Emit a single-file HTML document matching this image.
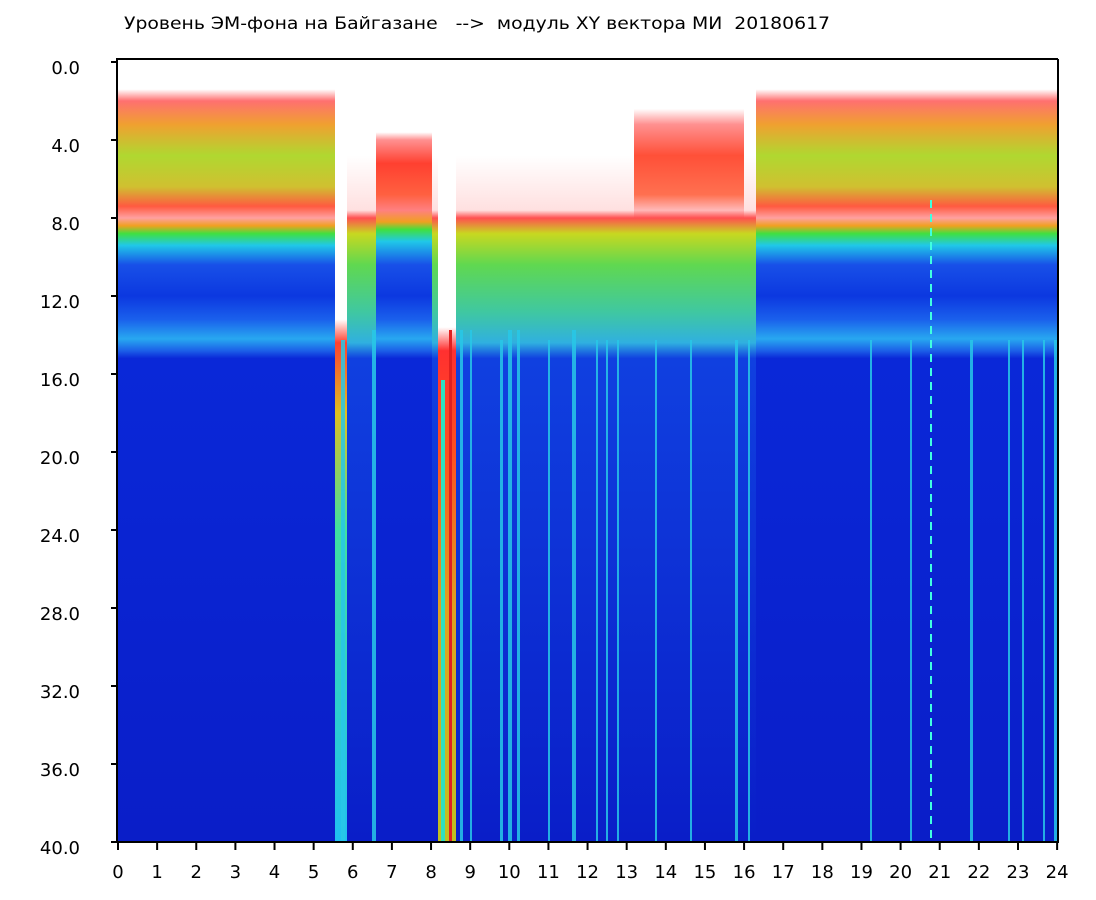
<!DOCTYPE html>
<html><head><meta charset="utf-8"><style>
html,body{margin:0;padding:0;background:#fff;width:1096px;height:900px;overflow:hidden}
svg text{font-family:"DejaVu Sans","Liberation Sans",sans-serif}
</style></head><body>
<svg width="1096" height="900" xmlns="http://www.w3.org/2000/svg">
<defs>
<linearGradient id="g1" gradientUnits="userSpaceOnUse" x1="0" y1="62" x2="0" y2="842">
<stop offset="0" stop-color="#fff"/>
<stop offset="0.035" stop-color="#fff"/>
<stop offset="0.05" stop-color="#ff7070"/>
<stop offset="0.08" stop-color="#f0a030"/>
<stop offset="0.12" stop-color="#b0d830"/>
<stop offset="0.16" stop-color="#d0c030"/>
<stop offset="0.185" stop-color="#ff5a40"/>
<stop offset="0.2" stop-color="#ffa0a0"/>
<stop offset="0.21" stop-color="#f0a020"/>
<stop offset="0.22" stop-color="#40e040"/>
<stop offset="0.235" stop-color="#20c8e8"/>
<stop offset="0.26" stop-color="#1850e8"/>
<stop offset="0.3" stop-color="#0c38e0"/>
<stop offset="0.33" stop-color="#1a60ec"/>
<stop offset="0.355" stop-color="#28a8f0"/>
<stop offset="0.37" stop-color="#1c60e8"/>
<stop offset="0.38" stop-color="#0a28d8"/>
<stop offset="1" stop-color="#0a1ec8"/>
</linearGradient>
<linearGradient id="g1r" gradientUnits="userSpaceOnUse" x1="0" y1="62" x2="0" y2="842">
<stop offset="0" stop-color="#fff"/>
<stop offset="0.09" stop-color="#fff"/>
<stop offset="0.1" stop-color="#ff9090"/>
<stop offset="0.13" stop-color="#ff4030"/>
<stop offset="0.17" stop-color="#ff6040"/>
<stop offset="0.19" stop-color="#ff8080"/>
<stop offset="0.205" stop-color="#f0a020"/>
<stop offset="0.215" stop-color="#40e040"/>
<stop offset="0.23" stop-color="#20c8e8"/>
<stop offset="0.26" stop-color="#1850e8"/>
<stop offset="0.3" stop-color="#0c38e0"/>
<stop offset="0.33" stop-color="#1a60ec"/>
<stop offset="0.355" stop-color="#28a8f0"/>
<stop offset="0.37" stop-color="#1c60e8"/>
<stop offset="0.38" stop-color="#0a28d8"/>
<stop offset="1" stop-color="#0a1ec8"/>
</linearGradient>
<linearGradient id="g2" gradientUnits="userSpaceOnUse" x1="0" y1="62" x2="0" y2="842">
<stop offset="0" stop-color="#fff"/>
<stop offset="0.12" stop-color="#fff"/>
<stop offset="0.19" stop-color="#ffe0e0"/>
<stop offset="0.2" stop-color="#ff5050"/>
<stop offset="0.22" stop-color="#c8d820"/>
<stop offset="0.26" stop-color="#60d850"/>
<stop offset="0.32" stop-color="#40c8a0"/>
<stop offset="0.36" stop-color="#30b0e0"/>
<stop offset="0.38" stop-color="#1040e0"/>
<stop offset="1" stop-color="#0a1ec8"/>
</linearGradient>
<linearGradient id="g3" gradientUnits="userSpaceOnUse" x1="0" y1="62" x2="0" y2="842">
<stop offset="0" stop-color="#fff"/>
<stop offset="0.06" stop-color="#fff"/>
<stop offset="0.08" stop-color="#ff9090"/>
<stop offset="0.12" stop-color="#ff5038"/>
<stop offset="0.17" stop-color="#ff7050"/>
<stop offset="0.19" stop-color="#ffb8b8"/>
<stop offset="0.2" stop-color="#ff5050"/>
<stop offset="0.22" stop-color="#c8d820"/>
<stop offset="0.26" stop-color="#60d850"/>
<stop offset="0.32" stop-color="#40c8a0"/>
<stop offset="0.36" stop-color="#30b0e0"/>
<stop offset="0.38" stop-color="#1040e0"/>
<stop offset="1" stop-color="#0a1ec8"/>
</linearGradient>
<linearGradient id="gap" gradientUnits="userSpaceOnUse" x1="0" y1="62" x2="0" y2="842">
<stop offset="0" stop-color="#fff"/>
<stop offset="0.33" stop-color="#fff"/>
<stop offset="0.36" stop-color="#ff4030"/>
<stop offset="0.45" stop-color="#e0c020"/>
<stop offset="0.6" stop-color="#40e0a0"/>
<stop offset="1" stop-color="#20c0f0"/>
</linearGradient>
<linearGradient id="gap2" gradientUnits="userSpaceOnUse" x1="0" y1="62" x2="0" y2="842">
<stop offset="0" stop-color="#fff"/>
<stop offset="0.34" stop-color="#fff"/>
<stop offset="0.37" stop-color="#ff3030"/>
<stop offset="0.5" stop-color="#ff5020"/>
<stop offset="0.7" stop-color="#e0a020"/>
<stop offset="1" stop-color="#c0c020"/>
</linearGradient>
</defs>
<text x="124" y="29" font-size="17" fill="#000" xml:space="preserve" textLength="706" lengthAdjust="spacingAndGlyphs">Уровень ЭМ-фона на Байгазане   --&gt;  модуль XY вектора МИ  20180617</text>
<rect x="117" y="59" width="941" height="783" fill="#fff"/>
<rect x="117" y="59" width="218" height="783" fill="url(#g1)"/>
<rect x="335" y="59" width="12" height="783" fill="url(#gap)"/>
<rect x="347" y="59" width="29" height="783" fill="url(#g2)"/>
<rect x="376" y="59" width="56" height="783" fill="url(#g1r)"/>
<rect x="432" y="59" width="6" height="783" fill="url(#g2)"/>
<rect x="438" y="59" width="18" height="783" fill="url(#gap2)"/>
<rect x="441" y="380" width="4" height="462" fill="#30e0c0"/>
<rect x="449" y="330" width="3" height="512" fill="#e02020"/>
<rect x="456" y="59" width="178" height="783" fill="url(#g2)"/>
<rect x="634" y="59" width="110" height="783" fill="url(#g3)"/>
<rect x="744" y="59" width="12" height="783" fill="url(#g2)"/>
<rect x="756" y="59" width="302" height="783" fill="url(#g1)"/>
<g fill="#28c8e8" opacity="0.85">
<rect x="341" y="340" width="4" height="502"/>
<rect x="372" y="330" width="4" height="512"/>
<rect x="460" y="330" width="3" height="512"/>
<rect x="470" y="330" width="2" height="512"/>
<rect x="500" y="340" width="3" height="502"/>
<rect x="508" y="330" width="4" height="512"/>
<rect x="517" y="330" width="3" height="512"/>
<rect x="548" y="340" width="2" height="502"/>
<rect x="572" y="330" width="4" height="512"/>
<rect x="596" y="340" width="2" height="502"/>
<rect x="606" y="340" width="2" height="502"/>
<rect x="617" y="340" width="2" height="502"/>
<rect x="655" y="340" width="2" height="502"/>
<rect x="690" y="340" width="2" height="502"/>
<rect x="735" y="340" width="3" height="502"/>
<rect x="748" y="340" width="2" height="502"/>
<rect x="870" y="340" width="2" height="502"/>
<rect x="910" y="340" width="2" height="502"/>
<rect x="970" y="340" width="3" height="502"/>
<rect x="1008" y="340" width="2" height="502"/>
<rect x="1022" y="340" width="2" height="502"/>
<rect x="1043" y="340" width="2" height="502"/>
<rect x="1054" y="340" width="3" height="502"/>
</g>
<line x1="931" y1="200" x2="931" y2="842" stroke="#40ffe0" stroke-width="2" stroke-dasharray="8,6"/>
<g stroke="#000" stroke-width="2" fill="none">
<polyline points="1058,59 117,59 117,842 1058,842 1058,59"/>
</g>
<g stroke="#000" stroke-width="2">
<line x1="111" y1="62" x2="117" y2="62"/><line x1="111" y1="140" x2="117" y2="140"/><line x1="111" y1="218" x2="117" y2="218"/><line x1="111" y1="296" x2="117" y2="296"/><line x1="111" y1="374" x2="117" y2="374"/><line x1="111" y1="452" x2="117" y2="452"/><line x1="111" y1="530" x2="117" y2="530"/><line x1="111" y1="608" x2="117" y2="608"/><line x1="111" y1="686" x2="117" y2="686"/><line x1="111" y1="764" x2="117" y2="764"/><line x1="111" y1="842" x2="117" y2="842"/>
</g>
<g font-size="18" fill="#000" text-anchor="end">
<text x="80" y="74">0.0</text><text x="80" y="152">4.0</text><text x="80" y="230">8.0</text><text x="80" y="308">12.0</text><text x="80" y="386">16.0</text><text x="80" y="464">20.0</text><text x="80" y="542">24.0</text><text x="80" y="620">28.0</text><text x="80" y="698">32.0</text><text x="80" y="776">36.0</text><text x="80" y="854">40.0</text>
</g>
<g id="xt" stroke="#000" stroke-width="2"></g>
<g id="xl" font-size="18" fill="#000" text-anchor="middle"></g>
<script>
var xt=document.getElementById('xt'),xl=document.getElementById('xl'),ns='http://www.w3.org/2000/svg';
for(var h=0;h<=24;h++){var x=118+h*39.13;
var l=document.createElementNS(ns,'line');l.setAttribute('x1',x);l.setAttribute('x2',x);l.setAttribute('y1',842);l.setAttribute('y2',850);xt.appendChild(l);
var t=document.createElementNS(ns,'text');t.setAttribute('x',x);t.setAttribute('y',878);t.textContent=h;xl.appendChild(t);}
</script>
</svg>
</body></html>
